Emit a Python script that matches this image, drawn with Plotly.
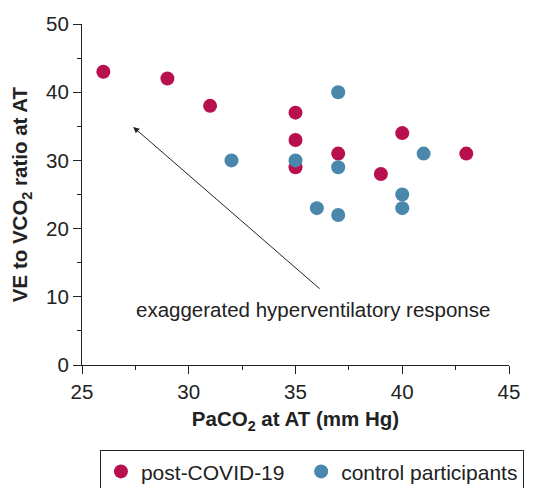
import plotly.graph_objects as go

covid_x = [26, 29, 31, 35, 35, 35, 37, 39, 40, 43]
covid_y = [43, 42, 38, 37, 33, 29, 31, 28, 34, 31]
ctrl_x = [32, 35, 37, 37, 36, 37, 40, 40, 41]
ctrl_y = [30, 30, 40, 29, 23, 22, 25, 23, 31]
series_names = ["post-COVID-19", "control participants"]

FONT = "Liberation Sans, Arial, sans-serif"
RED = "#B8104F"
BLUE = "#4A87AD"
INK = "#222"

fig = go.Figure()
fig.add_trace(go.Scatter(x=covid_x, y=covid_y, mode="markers", name=series_names[0] + "\u00a0\u00a0",
                         marker=dict(color=RED, size=14), cliponaxis=False))
fig.add_trace(go.Scatter(x=ctrl_x, y=ctrl_y, mode="markers", name=series_names[1],
                         marker=dict(color=BLUE, size=14), cliponaxis=False))

axis_common = dict(showline=True, linecolor=INK, linewidth=1, showgrid=False, zeroline=False,
                   ticks="outside", ticklen=8, tickcolor=INK, tickwidth=1, automargin=False,
                   tickfont=dict(size=20.5, color=INK, family=FONT))
fig.update_xaxes(range=[25, 45], dtick=5, tick0=25,
                 minor=dict(ticks="outside", dtick=2.5, ticklen=4, tickcolor=INK),
                 title=dict(text="<b>PaCO<sub>2</sub> at AT (mm Hg)</b>", font=dict(size=20.5, color=INK, family=FONT), standoff=10),
                 **axis_common)
fig.update_yaxes(range=[0, 50], dtick=10, tick0=0,
                 minor=dict(ticks="outside", dtick=5, ticklen=4, tickcolor=INK),
                 title=dict(text="<b>VE to VCO<sub>2</sub> ratio at AT</b>", font=dict(size=20.5, color=INK, family=FONT), standoff=12),
                 **axis_common)

fig.add_annotation(x=27.4, y=34.9, ax=36.2, ay=11.0, xref="x", yref="y", axref="x", ayref="y",
                   text="", showarrow=True, arrowhead=2, arrowsize=1.2, arrowwidth=1, arrowcolor=INK)
fig.add_annotation(x=35.8, y=8.2, xref="x", yref="y", text="exaggerated hyperventilatory response",
                   showarrow=False, font=dict(size=20.5, color=INK, family=FONT))

fig.update_layout(
    width=533, height=480,
    margin=dict(l=74, r=32, t=16, b=123, autoexpand=False),
    paper_bgcolor="white", plot_bgcolor="white",
    font=dict(family=FONT, color=INK),
    showlegend=True,
    legend=dict(orientation="h", x=0.042, y=-0.25, xanchor="left", yanchor="top",
                bordercolor=INK, borderwidth=1, font=dict(size=21, color=INK, family=FONT),
                itemwidth=30),
)
fig.write_html("out.html")
